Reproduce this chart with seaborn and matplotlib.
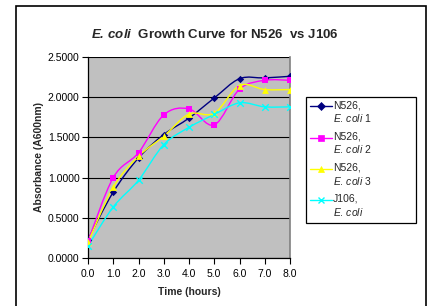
"""E. coli growth curve: N526 replicates vs J106."""

import matplotlib
matplotlib.use("Agg")

import matplotlib.pyplot as plt
import numpy as np
import pandas as pd
import seaborn as sns
from matplotlib.legend_handler import HandlerLine2D
from matplotlib.lines import Line2D
from matplotlib.patches import PathPatch, Rectangle
from matplotlib.path import Path
from matplotlib.ticker import FormatStrFormatter, MultipleLocator

hours = [0.0, 1.0, 2.0, 3.0, 4.0, 5.0, 6.0, 7.0, 8.0]
n526_1 = [0.23, 0.82, 1.245, 1.535, 1.74, 1.99, 2.23, 2.24, 2.26]
n526_2 = [0.21, 1.00, 1.31, 1.78, 1.855, 1.655, 2.10, 2.21, 2.21]
n526_3 = [0.195, 0.88, 1.265, 1.515, 1.79, 1.80, 2.145, 2.095, 2.095]
j106 = [0.15, 0.635, 0.967, 1.41, 1.625, 1.785, 1.93, 1.88, 1.88]

series_names = ["N526, E. coli 1", "N526, E. coli 2", "N526, E. coli 3", "J106, E. coli"]
legend_labels = [
    "N526,\n$\\it{E.\\,coli}$ 1",
    "N526,\n$\\it{E.\\,coli}$ 2",
    "N526,\n$\\it{E.\\,coli}$ 3",
    "J106,\n$\\it{E.\\,coli}$",
]
colors = ["#000080", "#FF00FF", "#FFFF00", "#00FFFF"]
markers = ["D", "s", "^", "x"]
sizes = [14, 20, 24, 22]

df = pd.DataFrame({
    "hours": hours * 4,
    "absorbance": n526_1 + n526_2 + n526_3 + j106,
    "series": [name for name in series_names for _ in hours],
})

sns.set_style("white")
plt.rcParams["font.family"] = ["Liberation Sans", "DejaVu Sans"]
plt.rcParams["mathtext.fontset"] = "custom"
plt.rcParams["mathtext.it"] = "Liberation Sans:italic"
plt.rcParams["mathtext.bf"] = "Liberation Sans:bold"
plt.rcParams["mathtext.bfit"] = "Liberation Sans:italic:bold"
plt.rcParams["mathtext.rm"] = "Liberation Sans"


def smooth_path(xs, ys):
    """Excel-style smoothed line as cubic Bezier segments through the points."""
    pts = np.column_stack([xs, ys])
    n = len(pts)
    verts = [pts[0]]
    codes = [Path.MOVETO]
    for i in range(n - 1):
        p0 = pts[i - 1] if i > 0 else pts[i]
        p1 = pts[i]
        p2 = pts[i + 1]
        p3 = pts[i + 2] if i + 2 < n else pts[i + 1]
        c1 = p1 + (p2 - p0) / 6.0
        c2 = p2 - (p3 - p1) / 6.0
        verts += [c1, c2, p2]
        codes += [Path.CURVE4] * 3
    return Path(verts, codes)


class FirstLineHandler(HandlerLine2D):
    """Legend handle lined up with the first line of a two-line label."""

    def create_artists(self, legend, orig_handle, xdescent, ydescent,
                       width, height, fontsize, trans):
        return super().create_artists(legend, orig_handle, xdescent,
                                      ydescent - 1.15 * fontsize, width, height,
                                      fontsize, trans)


fig = plt.figure(figsize=(4.29, 3.06), dpi=100)
ax = fig.add_axes([88 / 429, 1 - 258 / 306, 202 / 429, 201 / 306])
ax.set_facecolor("#C0C0C0")

# outer chart border
fig.patches.append(Rectangle((16 / 429, -0.05), 410 / 429, 1.05 - 6 / 306,
                             transform=fig.transFigure, fill=False,
                             edgecolor="black", linewidth=1.2))

for name, color, marker, size in zip(series_names, colors, markers, sizes):
    sub = df[df["series"] == name]
    ax.add_patch(PathPatch(smooth_path(sub["hours"].to_numpy(), sub["absorbance"].to_numpy()),
                           fill=False, edgecolor=color, linewidth=1.0, zorder=3))
    sns.scatterplot(data=sub, x="hours", y="absorbance", marker=marker, color=color,
                    s=size, linewidth=1.0 if marker == "x" else 0, edgecolor=color,
                    ax=ax, zorder=4, legend=False)

ax.set_xlim(0, 8)
ax.set_ylim(0, 2.5)
ax.xaxis.set_major_locator(MultipleLocator(1.0))
ax.yaxis.set_major_locator(MultipleLocator(0.5))
ax.xaxis.set_major_formatter(FormatStrFormatter("%.1f"))
ax.yaxis.set_major_formatter(FormatStrFormatter("%.4f"))
ax.grid(axis="y", color="black", linewidth=0.8)
ax.grid(axis="x", visible=False)
ax.set_axisbelow(True)
ax.tick_params(axis="both", direction="out", length=4, width=0.8, labelsize=7.5,
               colors="black", pad=2)
ax.tick_params(axis="x", bottom=True, pad=4)
ax.tick_params(axis="y", left=True)

for side in ["left", "bottom"]:
    ax.spines[side].set_color("black")
    ax.spines[side].set_linewidth(0.9)
ax.spines["right"].set_color("#808080")
ax.spines["right"].set_linewidth(1.2)
ax.spines["top"].set_visible(False)

ax.set_xlabel("Time (hours)", fontsize=7.5, fontweight="bold", labelpad=6)
ax.set_ylabel("Absorbance (A600nm)", fontsize=7.5, fontweight="bold", labelpad=3)

fig.text(215 / 429, 1 - 34 / 306,
         "$\\mathbfit{E.\\,coli}$  Growth Curve for N526  vs J106",
         ha="center", va="center", fontsize=9.5, fontweight="bold")

# legend frame (fixed size, like the spreadsheet legend box)
fig.patches.append(Rectangle((306 / 429, 1 - 223 / 306), 110 / 429, 126 / 306,
                             transform=fig.transFigure, facecolor="white",
                             edgecolor="black", linewidth=0.9, zorder=5))

handles = [Line2D([], [], color=c, marker=m, markersize=4.5,
                  markeredgewidth=1.0 if m == "x" else 0.5, linewidth=1.0)
           for c, m in zip(colors, markers)]
leg = fig.legend(handles, legend_labels, loc="upper left",
                 bbox_to_anchor=(308 / 429, 1 - 98 / 306), frameon=False,
                 fontsize=7.5, handlelength=2.1, handletextpad=0.1,
                 labelspacing=0.7, borderpad=0.2, borderaxespad=0,
                 handler_map={Line2D: FirstLineHandler()})
leg.set_zorder(6)

fig.savefig("out.png", dpi=100)
plt.close(fig)
